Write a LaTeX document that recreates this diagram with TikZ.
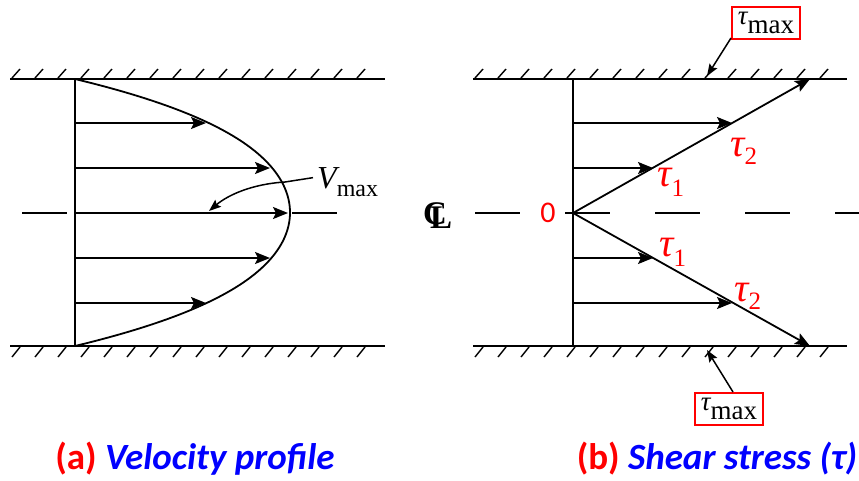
\documentclass[tikz,border=0pt]{standalone}
\usepackage{fontspec}
\setmainfont{Liberation Serif}
\newfontfamily\capfont{Carlito}
\usetikzlibrary{arrows.meta}
\begin{document}
\begin{tikzpicture}[x=1pt,y=-1pt,
  wall/.style={line width=2.2pt},
  hatch/.style={line width=1.4pt},
  prof/.style={line width=1.8pt},
  vec/.style={prof,-{Stealth[length=15pt,width=12pt,inset=3pt]}},
  lead/.style={line width=1.5pt,-{Stealth[length=12pt,width=9pt,inset=2pt]}},
  cline/.style={line width=1.4pt,dash pattern=on 45pt off 45pt},
  tlab/.style={text=red,inner sep=0pt,font=\fontsize{40}{40}\selectfont\itshape},
  tbox/.style={draw=red,line width=2pt,minimum width=68pt,minimum height=32pt,inner sep=0pt,font=\fontsize{27}{27}\selectfont},
  clsym/.style={inner sep=0pt,font=\bfseries\fontsize{33}{33}\selectfont},
  captext/.style={inner sep=0pt,font=\capfont\bfseries\fontsize{37}{37}\selectfont}]
\useasboundingbox (0,0) rectangle (859,480);

% ---------- walls ----------
\draw[wall] (10,79) -- (385,79);
\draw[wall] (10,346) -- (385,346);
\draw[wall] (473,79) -- (847,79);
\draw[wall] (473,346) -- (847,346);
\foreach \x in {12,35,...,375} {
  \draw[hatch] (\x,78) -- ++(8,-9);
  \draw[hatch] (\x,357) -- ++(8,-10);
}
\foreach \x in {475,498,...,840} {
  \draw[hatch] (\x,78) -- ++(8,-9);
  \draw[hatch] (\x,357) -- ++(8,-10);
}

% ---------- centre lines ----------
\draw[cline] (22,213) -- (340,213);
\draw[cline] (475,213) -- (859,213);

% ---------- (a) velocity profile ----------
\coordinate (LT) at (75,79);
\coordinate (LB) at (75,346);
\draw[prof] (LT) -- (LB);
\draw[prof] plot[domain=-1:1,samples=101,variable=\t,smooth]
  ({75+215*(1-0.711*\t*\t-0.289*\t*\t*\t*\t)},{212.5+133.5*\t});
\foreach \n/\y/\xe in {1/123/206,2/168/270,3/213/288,4/258/270,5/303/206} {
  \coordinate (as\n) at (75,\y);
  \coordinate (ae\n) at (\xe,\y);
  \draw[vec] (as\n) -- (ae\n);
}
\node[anchor=base west,inner sep=0pt,font=\fontsize{32}{32}\selectfont\itshape] (vmax) at (317,188)
  {V\raisebox{-8pt}{\fontsize{24}{24}\selectfont\upshape max}};
\coordinate (vtip) at (209,211);
\draw[lead] ([xshift=-4pt,yshift=4pt]vmax.west) -- (285,182) .. controls (252,184) and (228,195) .. (vtip);

% ---------- (b) shear stress ----------
\coordinate (RT) at (573,79);
\coordinate (RB) at (573,346);
\coordinate (O) at (573,213);
\coordinate (DT) at (810,79);
\coordinate (DB) at (810,346);
\draw[prof] (RT) -- (RB);
\draw[vec] (O) -- (DT);
\draw[vec] (O) -- (DB);
\foreach \n/\y/\xe in {1/123/732,2/168/653,3/258/653,4/303/732} {
  \coordinate (bs\n) at (573,\y);
  \coordinate (be\n) at (\xe,\y);
  \draw[vec] (bs\n) -- (be\n);
}
\node[text=red,inner sep=0pt,font=\capfont\fontsize{30}{30}\selectfont] (zero) at (548,213) {0};
\node[clsym,anchor=base west] (cl) at (423,224) {\rlap{C}\kern7pt\raisebox{-4pt}{L}};

\node[tlab,anchor=base west] (t1u) at (657,186) {τ\raisebox{-10pt}{\fontsize{25}{25}\selectfont\upshape 1}};
\node[tlab,anchor=base west] (t2u) at (730,156) {τ\raisebox{-8pt}{\fontsize{25}{25}\selectfont\upshape 2}};
\node[tlab,anchor=base west] (t1l) at (659,256) {τ\raisebox{-10pt}{\fontsize{25}{25}\selectfont\upshape 1}};
\node[tlab,anchor=base west] (t2l) at (734,301) {τ\raisebox{-8pt}{\fontsize{25}{25}\selectfont\upshape 2}};

\node[tbox] (tmaxT) at (766,23) {\itshape τ\raisebox{-9pt}{\upshape max}};
\node[tbox] (tmaxB) at (729,409) {\itshape τ\raisebox{-9pt}{\upshape max}};
\coordinate (wT) at (707,76);
\coordinate (wB) at (707,350);
\draw[lead] ([yshift=2pt]tmaxT.south west) -- (wT);
\draw[lead] ([xshift=4pt]tmaxB.north) -- (wB);

% ---------- captions ----------
\node[captext] (capA) at (195,459) {\textcolor{red}{(a)} \textcolor{blue}{\itshape Velocity profile}};
\node[captext] (capB) at (717,459) {\textcolor{red}{(b)} \textcolor{blue}{\itshape Shear stress (τ)}};
\end{tikzpicture}
\end{document}
